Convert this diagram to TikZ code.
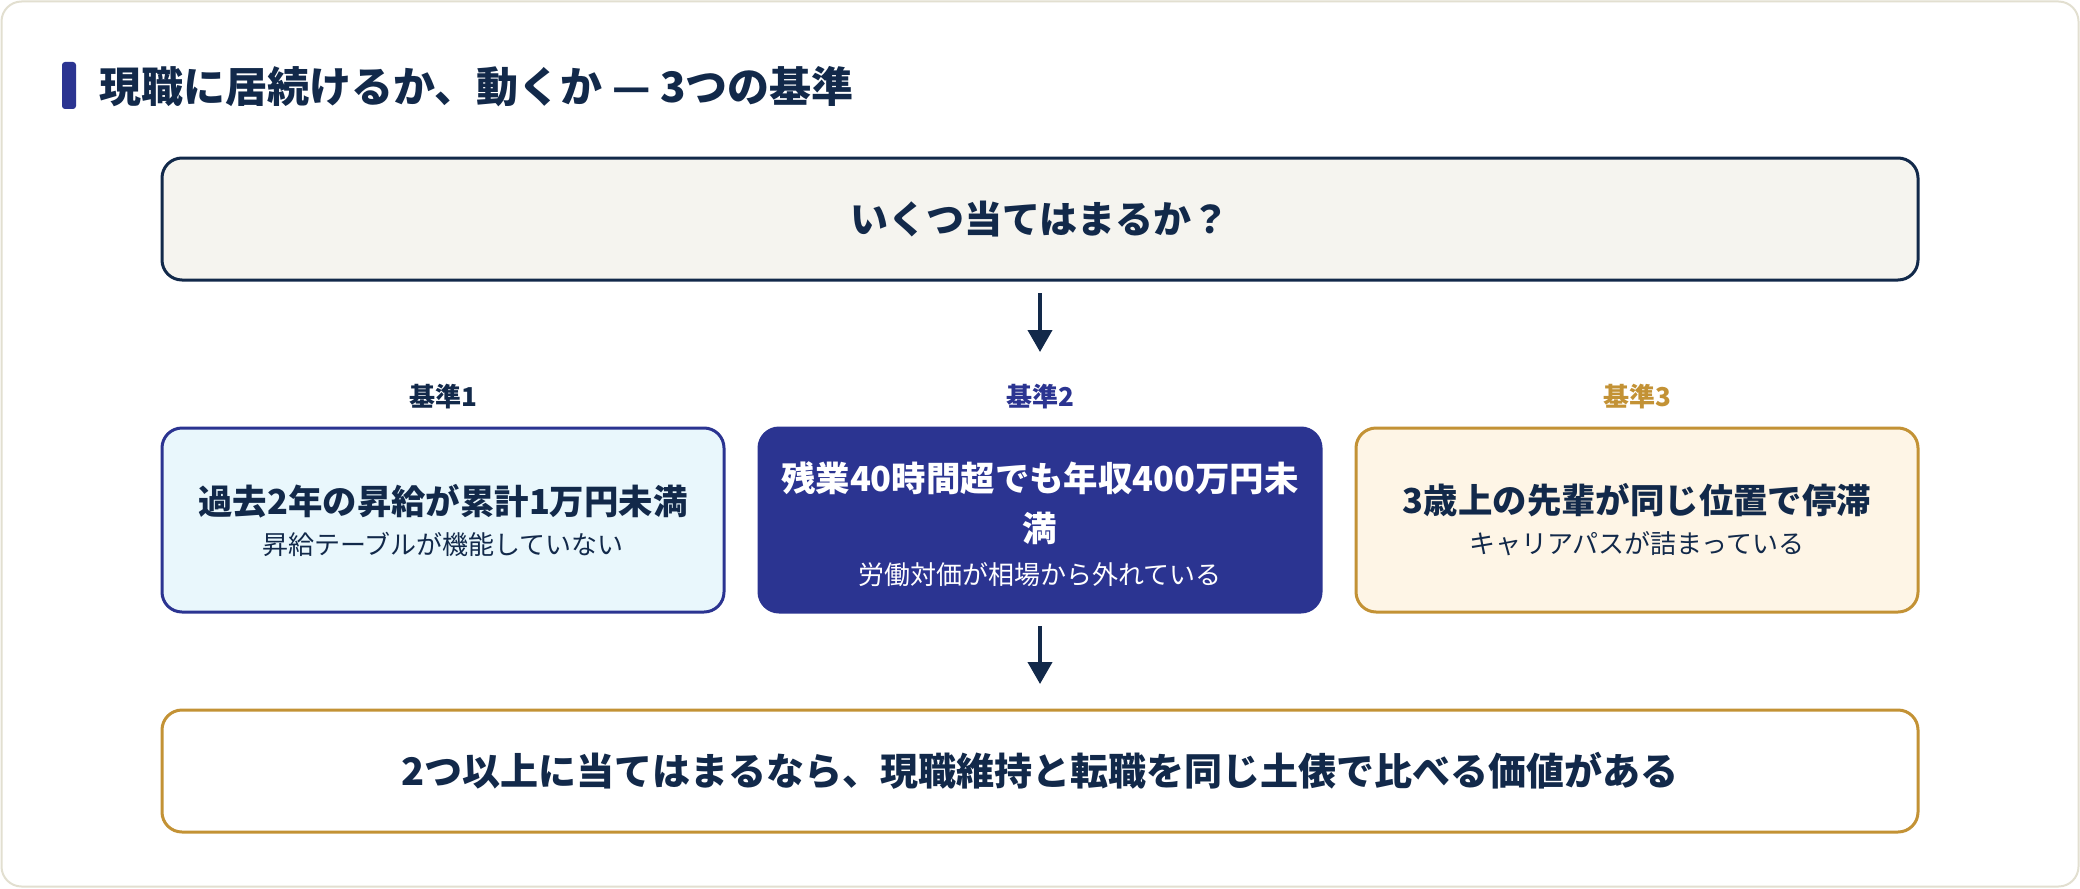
\documentclass[tikz,border=0pt]{standalone}
\usepackage{fontspec}
\setmainfont{Noto Sans CJK JP}
\usetikzlibrary{arrows.meta}
\definecolor{ink}{HTML}{12294A}
\definecolor{navy}{HTML}{2B3491}
\definecolor{gold}{HTML}{C39235}
\definecolor{cardline}{HTML}{E2DFD0}
\definecolor{topfill}{HTML}{F5F4EF}
\definecolor{cyanfill}{HTML}{E9F7FC}
\definecolor{creamfill}{HTML}{FEF5E6}
\tikzset{
  box/.style={rectangle, rounded corners=10pt, line width=1.5pt, align=center,
    font=\fontsize{13}{20}\selectfont, text=ink, inner sep=0pt},
  widebox/.style={box, minimum width=878pt, minimum height=61pt},
  critbox/.style={box, minimum width=281pt, minimum height=92pt},
  lbl/.style={font=\fontsize{13}{16}\selectfont\bfseries},
  flow/.style={draw=ink, line width=2pt, -{Triangle[length=11pt, width=12pt]}},
}
\newcommand{\mainline}[1]{{\fontsize{17.2}{20}\selectfont\bfseries #1}}
\newcommand{\bigline}[1]{{\fontsize{19}{22}\selectfont\bfseries #1}}
\begin{document}
\begin{tikzpicture}[x=0.5pt,y=-0.5pt]
\useasboundingbox (0,0) rectangle (2080,888);
\draw[cardline, line width=1pt, fill=white, rounded corners=10pt] (1.5,1.5) rectangle (2078.5,886.5);
% title
\fill[navy, rounded corners=1.5pt] (62,62) rectangle (76,109);
\node[anchor=west, text=ink, font=\fontsize{21}{24}\selectfont\bfseries, inner sep=0pt] (title) at (99,87) {現職に居続けるか、動くか — 3つの基準};
% top question
\node[widebox, draw=ink, fill=topfill] (q) at (1040,219) {\bigline{いくつ当てはまるか？}};
% labels
\node[lbl, text=ink] (l1) at (443,397) {基準1};
\node[lbl, text=navy] (l2) at (1040,397) {基準2};
\node[lbl, text=gold] (l3) at (1637,397) {基準3};
% criteria
\node[critbox, draw=navy, fill=cyanfill] (c1) at (443,520) {\mainline{過去2年の昇給が累計1万円未満}\\昇給テーブルが機能していない};
\node[critbox, draw=navy, fill=navy, text=white] (c2) at (1040,520) {\rule{0pt}{19pt}\mainline{残業40時間超でも年収400万円未}\\[5pt]\mainline{満}\\[1.5pt]労働対価が相場から外れている};
\node[critbox, draw=gold, fill=creamfill] (c3) at (1637,520) {\mainline{3歳上の先輩が同じ位置で停滞}\\キャリアパスが詰まっている};
% conclusion
\node[widebox, draw=gold, fill=white] (r) at (1040,771) {\bigline{2つ以上に当てはまるなら、現職維持と転職を同じ土俵で比べる価値がある}};
% arrows
\coordinate (a1s) at (1040,293);
\coordinate (a1e) at (1040,352);
\coordinate (a2s) at (1040,626);
\coordinate (a2e) at (1040,684);
\draw[flow] (a1s) -- (a1e);
\draw[flow] (a2s) -- (a2e);
\end{tikzpicture}
\end{document}
